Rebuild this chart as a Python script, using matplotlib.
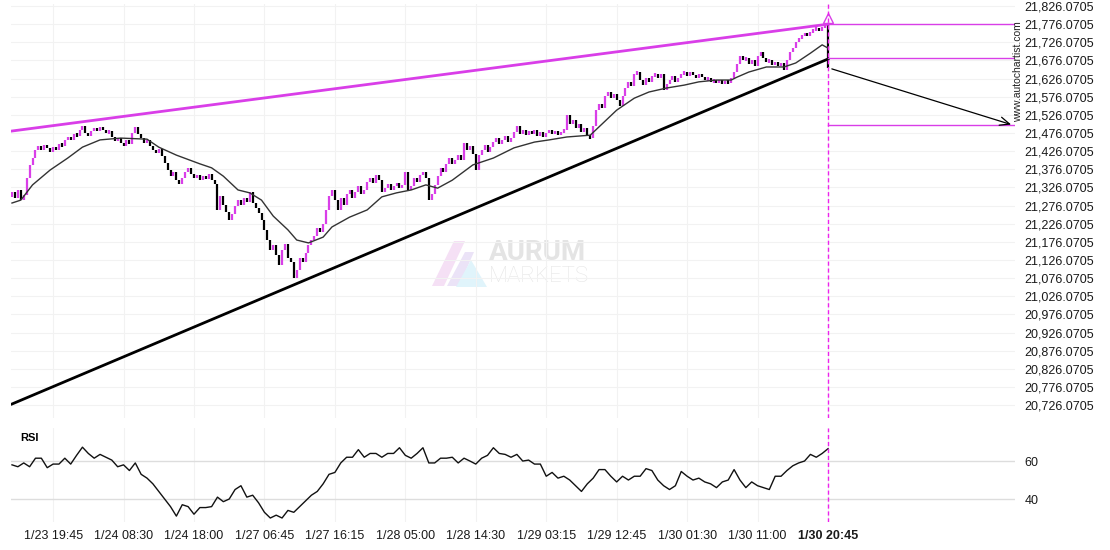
import matplotlib.pyplot as plt
import numpy as np
from matplotlib.patches import Polygon

plt.rcParams['font.family'] = ['Liberation Sans', 'DejaVu Sans']

# closing prices, one per bar (open = previous close)
first_open = 21300
closes = [
    21313, 21297, 21319, 21291, 21305, 21352, 21388, 21407, 21429, 21440,
    21429, 21443, 21435, 21424, 21437, 21429, 21446, 21440, 21457, 21465,
    21457, 21473, 21468, 21484, 21495, 21476, 21468, 21482, 21490, 21482,
    21493, 21484, 21476, 21482, 21465, 21454, 21462, 21448, 21440, 21457,
    21446, 21476, 21493, 21473, 21462, 21448, 21457, 21440, 21429, 21421,
    21432, 21413, 21393, 21374, 21357, 21368, 21346, 21335, 21352, 21368,
    21380, 21363, 21352, 21360, 21346, 21357, 21349, 21363, 21346, 21335,
    21264, 21302, 21278, 21258, 21236, 21253, 21275, 21291, 21278, 21297,
    21286, 21313, 21283, 21269, 21256, 21236, 21209, 21181, 21154, 21167,
    21140, 21112, 21154, 21170, 21132, 21121, 21076, 21098, 21132, 21121,
    21145, 21167, 21181, 21192, 21214, 21203, 21225, 21264, 21302, 21319,
    21291, 21264, 21297, 21278, 21308, 21319, 21297, 21313, 21330, 21308,
    21319, 21341, 21352, 21338, 21360, 21346, 21313, 21324, 21335, 21319,
    21330, 21338, 21324, 21333, 21368, 21319, 21330, 21352, 21341, 21360,
    21368, 21352, 21291, 21308, 21333, 21357, 21380, 21368, 21391, 21407,
    21391, 21402, 21415, 21402, 21448, 21429, 21440, 21418, 21374, 21415,
    21429, 21443, 21424, 21437, 21451, 21462, 21446, 21457, 21468, 21451,
    21462, 21479, 21495, 21473, 21484, 21470, 21482, 21473, 21484, 21468,
    21479, 21465, 21476, 21484, 21473, 21482, 21470, 21479, 21484, 21526,
    21501, 21512, 21490, 21501, 21479, 21490, 21468, 21462, 21495, 21539,
    21556, 21545, 21578, 21589, 21572, 21583, 21567, 21550, 21578, 21600,
    21617, 21606, 21639, 21644, 21622, 21608, 21628, 21617, 21633, 21639,
    21628, 21639, 21594, 21611, 21622, 21633, 21617, 21628, 21639, 21644,
    21633, 21644, 21636, 21628, 21639, 21630, 21622, 21628, 21617, 21622,
    21614, 21622, 21611, 21619, 21614, 21628, 21644, 21666, 21688, 21677,
    21683, 21666, 21677, 21661, 21688, 21699, 21683, 21672, 21677, 21663,
    21672, 21661, 21669, 21650, 21677, 21699, 21710, 21727, 21738, 21743,
    21752, 21743, 21754, 21760, 21765, 21757, 21768, 21774, 21655,
]

# moving average read at some bars
ma_idx = [0, 3, 7, 13, 19, 24, 30, 37, 46, 50, 56, 64, 68, 72, 77, 81, 85, 89,
          94, 97, 101, 106, 109, 115, 121, 126, 131, 136, 141, 145, 150, 157,
          164, 171, 178, 183, 189, 197, 200, 206, 212, 217, 223, 229, 234, 240,
          245, 247, 251, 257, 263, 267, 272, 276, 278]
ma_val = [21283, 21291, 21333, 21374, 21407, 21437, 21457, 21462, 21459, 21437,
          21415, 21391, 21380, 21357, 21319, 21311, 21291, 21247, 21209, 21181,
          21173, 21189, 21217, 21244, 21264, 21300, 21311, 21319, 21333, 21324,
          21346, 21388, 21407, 21435, 21451, 21457, 21465, 21470, 21493, 21539,
          21572, 21589, 21600, 21608, 21617, 21622, 21622, 21630, 21644, 21658,
          21658, 21669, 21696, 21719, 21710]

# RSI read every second bar
rsi = [58, 57, 59, 57, 61.5, 61.5, 56.5, 58.4, 58.4, 61.5,
       58.4, 63, 67.3, 64, 61.5, 63.5, 62, 60.5, 57, 58,
       55, 59, 53, 51, 48, 44, 40, 36, 31, 37,
       36, 32, 35.5, 35.5, 36, 41, 38.6, 40, 45, 47,
       41, 42, 38, 33, 30, 31.5, 30, 34, 33, 36,
       39, 42, 44, 48, 53, 54, 59, 62, 62, 66,
       62, 64, 64, 62, 64, 64, 67, 63, 61.5, 64,
       67, 59, 59, 61.5, 61.5, 62, 59, 61.5, 60, 58.4,
       61.5, 63, 67, 64, 63.5, 62, 63.5, 60, 60.5, 58.4,
       58.4, 52, 54, 51, 52, 50, 47, 44, 48, 51,
       55.5, 55.5, 52, 49, 52, 50, 52, 52, 56, 55,
       50, 47, 45, 47, 54.5, 52, 50, 51, 49, 48,
       46, 49, 50, 55.5, 50, 46, 49, 47, 46, 45,
       52, 52, 55, 57.5, 59, 60, 63.5, 62, 64, 66.5]

tick_labels = ['1/23 19:45', '1/24 08:30', '1/24 18:00', '1/27 06:45',
               '1/27 16:15', '1/28 05:00', '1/28 14:30', '1/29 03:15',
               '1/29 12:45', '1/30 01:30', '1/30 11:00', '1/30 20:45']
tick_idx = [14 + 24 * k for k in range(len(tick_labels))]

upper_x, upper_y = [0, 278], [21481.5, 21776.0]
lower_x, lower_y = [0, 278], [20729.0, 21680.0]
levels = [21776.0, 21683.0, 21497.0]
arrow_start, arrow_end = 21655.0, 21497.0

MAG = '#d93ee8'
n = len(closes)
idx = np.arange(n)
c = np.array(closes, dtype=float)
o = np.concatenate([[first_open], c[:-1]])

W, H = 1110, 550
fig = plt.figure(figsize=(W / 100, H / 100), dpi=100)

def box(l, t, r, b):
    return [l / W, 1 - b / H, (r - l) / W, (b - t) / H]

# watermark underneath
wax = fig.add_axes([0, 0, 1, 1], zorder=0)
wax.set_xlim(0, W)
wax.set_ylim(H, 0)
wax.axis('off')
wax.add_patch(Polygon([[432, 286], [444, 286], [465, 241], [454, 241]],
                      closed=True, color='#f5e0f5', lw=0))
wax.add_patch(Polygon([[447, 286], [459, 286], [474, 252], [465, 252]],
                      closed=True, color='#ebe3f7', lw=0))
wax.add_patch(Polygon([[456, 287], [487, 287], [471, 260]],
                      closed=True, color='#e0f4fb', lw=0))
wax.text(489, 252, 'AURUM', fontsize=20, fontweight='bold', color='#e4e4e4',
         va='center', ha='left', family='Roboto')
wax.text(489, 277, 'MARKETS', fontsize=16, fontweight='light', color='#e6e6e6',
         va='center', ha='left', family='Roboto')

ax = fig.add_axes(box(11, 4, 1015, 418), zorder=1)
rax = fig.add_axes(box(11, 428, 1015, 522), zorder=1, sharex=ax)
for a in (ax, rax):
    a.set_facecolor('none')
    for s in a.spines.values():
        s.set_visible(False)
    a.yaxis.tick_right()
    a.tick_params(axis='y', length=0, pad=7, labelsize=9, labelcolor='#1a1a1a')
    for t in tick_idx:
        a.axvline(t, color='#f2f2f2', lw=0.8, zorder=0)

# price panel
yt = [20726.0705 + 50 * k for k in range(23)]
ax.set_yticks(yt)
ax.set_yticklabels(['{:,.4f}'.format(v) for v in yt])
for v in yt:
    ax.axhline(v, color='#f2f2f2', lw=0.8, zorder=0)
ax.set_ylim(20690.4, 21831.6)
ax.set_xlim(-0.34, 341.7)

up = c >= o
cols = [MAG if u else 'black' for u in up]
mid = (o + c) / 2
half = np.maximum(np.abs(c - o) / 2, 5)
ax.vlines(idx, mid - half, mid + half, colors=cols, lw=1.6, zorder=3)
ax.plot(ma_idx, ma_val, color='#333333', lw=1.0, zorder=3)

ax.plot(upper_x, upper_y, color=MAG, lw=2.0, zorder=4)
ax.plot(lower_x, lower_y, color='black', lw=2.0, zorder=4)
for lv in levels:
    ax.plot([n - 1, 341.7], [lv, lv], color=MAG, lw=1.0, zorder=4)
ax.annotate('', xy=(341.3, arrow_end), xytext=(n - 0.6, arrow_start),
            arrowprops=dict(arrowstyle='->,head_length=0.7,head_width=0.3',
                            color='black', lw=0.9), zorder=5)
ax.plot([n - 1], [21792], marker='^', ms=7, mfc='none', mec=MAG, mew=1.0,
        zorder=5)
ax.tick_params(axis='x', bottom=False, labelbottom=False)

# RSI panel
rsi_idx = idx[::2]
rax.plot(rsi_idx, rsi, color='#111111', lw=1.0, zorder=3)
rax.set_ylim(27.9, 77.4)
rax.set_yticks([40, 60])
rax.set_yticklabels(['40', '60'])
for v in (40, 60):
    rax.axhline(v, color='#dddddd', lw=1.0, zorder=0)
rax.set_xticks(tick_idx)
rax.set_xticklabels(tick_labels)
rax.tick_params(axis='x', length=0, pad=6, labelsize=9, labelcolor='#1a1a1a')
rax.get_xticklabels()[-1].set_fontweight('bold')

# last-bar marker line through both panels
ax.axvline(n - 1, color='#ee22ee', lw=1.0, ls=(0, (3, 2)), zorder=6)
rax.axvline(n - 1, color='#ee22ee', lw=1.0, ls=(0, (3, 2)), zorder=6)

fig.text(20 / W, 1 - 438 / H, 'RSI', fontsize=8, fontweight='bold',
         va='center', ha='left')
fig.text(1018 / W, 1 - 72 / H, 'www.autochartist.com', fontsize=7.5,
         rotation=90, va='center', ha='center', color='#222222')

fig.savefig('out.png', dpi=100)
